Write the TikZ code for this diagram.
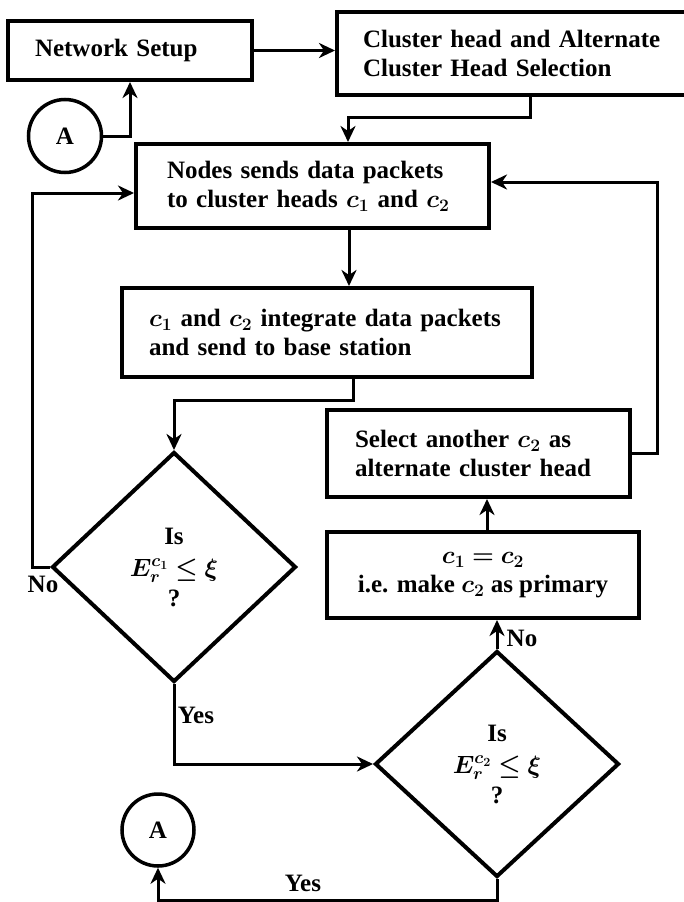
\RequirePackage{fix-cm}
\documentclass[tikz,border=0pt]{standalone}
\usepackage{amsmath}
\usepackage{bm}
\usepackage{fontspec}
\setmainfont{Liberation Serif}
\usetikzlibrary{arrows.meta,shapes.geometric}

\begin{document}
\begin{tikzpicture}[x=1pt,y=-1pt,
  lbl/.style={font=\fontsize{25}{29}\selectfont\bfseries},
  box/.style={draw, line width=4pt, inner sep=0pt, lbl},
  decision/.style={draw, diamond, line width=4pt, inner sep=0pt, lbl, align=center},
  connector/.style={circle, draw, line width=3.5pt, inner sep=0pt, lbl},
  arr/.style={line width=3pt, -{Stealth[length=16pt,width=15pt,inset=5pt]}},
  tag/.style={lbl, inner sep=0pt}
]
\useasboundingbox (0,0) rectangle (683,902);
\fill[white] (0,0) rectangle (683,902);

% process boxes
\node[box, minimum width=244pt, minimum height=59pt, text width=190pt, align=left]
  (ns) at (130,50.5) {Network Setup};
\node[box, minimum width=353pt, minimum height=83pt, text width=301pt, align=left]
  (cluster) at (513.5,53.5) {Cluster head and Alternate\\Cluster Head Selection};
\node[box, minimum width=353pt, minimum height=84pt, text width=291pt, align=left]
  (nodes) at (312.5,186) {Nodes sends data packets\\to cluster heads $\bm{c_1}$ and $\bm{c_2}$};
\node[box, minimum width=410pt, minimum height=89pt, text width=356pt, align=left]
  (integ) at (327,332.5) {$\bm{c_1}$ and $\bm{c_2}$ integrate data packets\\and send to base station};
\node[box, minimum width=303pt, minimum height=87pt, text width=247pt, align=left]
  (select) at (478.5,453.5) {Select another $\bm{c_2}$ as\\alternate cluster head};
\node[box, minimum width=312pt, minimum height=86pt, align=center]
  (swap) at (483,575) {$\bm{c_1 = c_2}$\\i.e. make $\bm{c_2}$ as primary};

% decisions
\node[decision, minimum width=244pt, minimum height=230pt]
  (d1) at (174,567) {Is\\[3pt]$\bm{E_r^{c_1}\le\xi}$\\[1pt]?};
\node[decision, minimum width=244pt, minimum height=226pt]
  (d2) at (497,764) {Is\\[3pt]$\bm{E_r^{c_2}\le\xi}$\\[1pt]?};

% off-page connectors
\node[connector, minimum size=73pt] (A1) at (65,136) {A};
\node[connector, minimum size=72pt] (A2) at (158,830) {A};

% flow lines
\draw[arr] (ns.east) -- (ns.east -| cluster.west);
\draw[arr] (A1.east) -| (ns.south);
\draw[arr] (cluster.south -| 530,0) |- (348,117) -- (nodes.north -| 348,0);
\draw[arr] (nodes.south -| 349,0) -- (integ.north -| 349,0);
\draw[arr] (integ.south -| 353,0) |- (d1.north |- 0,400) -- (d1.north);
\draw[arr] (d1.west) -- (32,567) |- (nodes.west |- 0,193);
\draw[arr] (d1.south) |- (d2.west);
\draw[arr] (d2.north) -- (d2.north |- swap.south);
\draw[arr] (swap.north -| 487,0) -- (select.south -| 487,0);
\draw[arr] (select.east) -- (657,453.5) |- (nodes.east |- 0,182);
\draw[arr] (d2.south) |- (A2.south |- 0,900) -- (A2.south);

% branch labels
\node[tag] (no1) at (43,584) {No};
\node[tag] (yes1) at (196,715) {Yes};
\node[tag] (no2) at (522,638) {No};
\node[tag] (yes2) at (303,883) {Yes};
\end{tikzpicture}
\end{document}
